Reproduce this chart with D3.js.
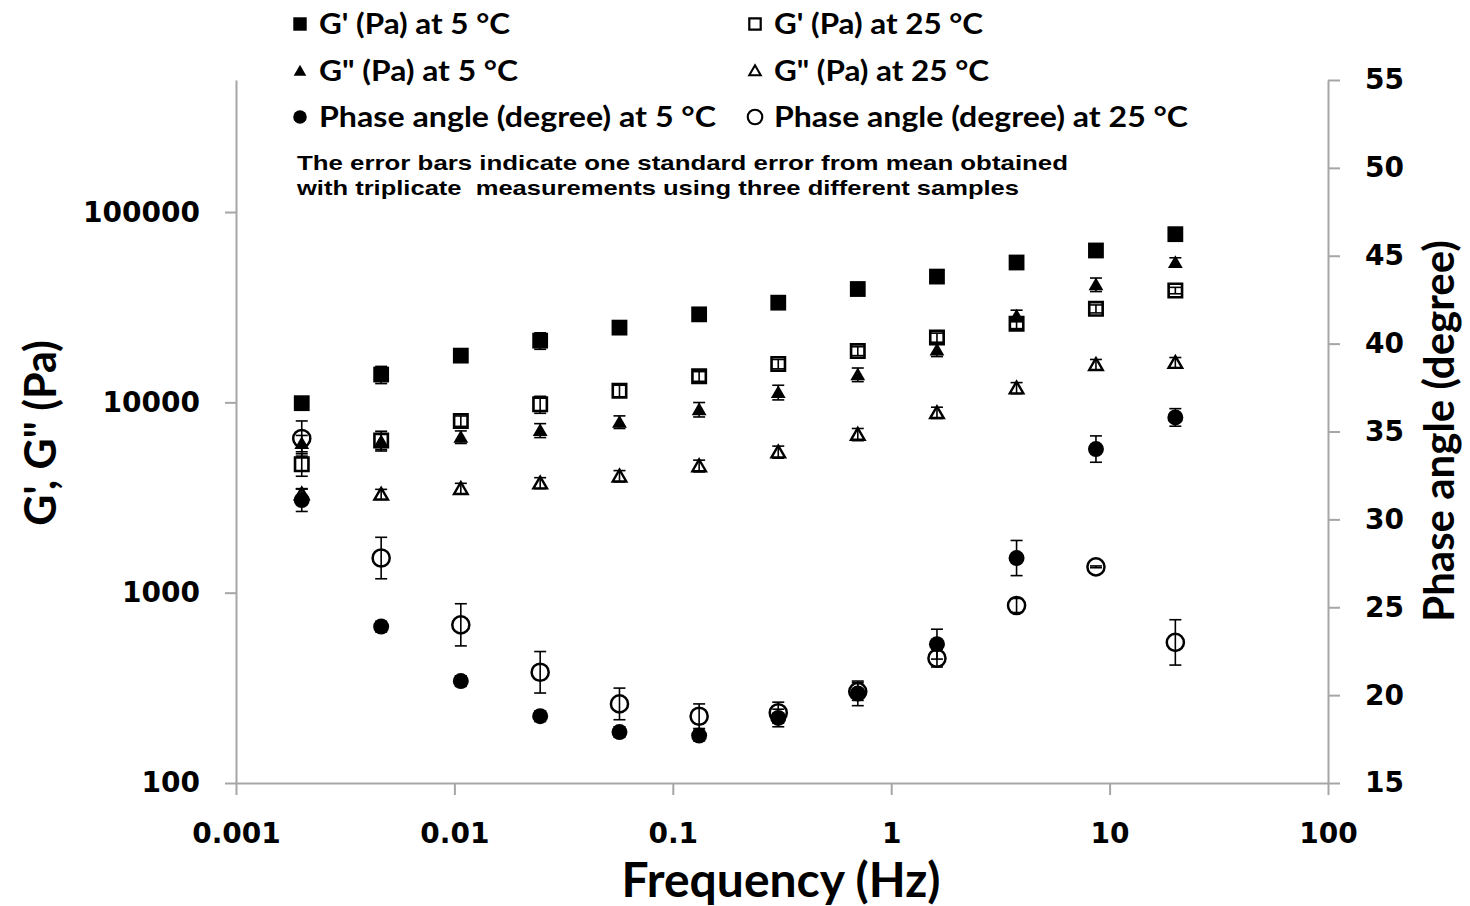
<!DOCTYPE html>
<html>
<head>
<meta charset="utf-8">
<script src="https://cdn.jsdelivr.net/npm/d3@7"></script>
<style>
  html, body { margin: 0; padding: 0; background: #fff; }
  svg { display: block; }
</style>
</head>
<body>
<svg id="chart" width="1470" height="906"></svg>
<script>
// Oscillatory frequency sweep: storage / loss modulus and phase angle at 5 °C and 25 °C
const frequencyHz = [0.002, 0.00462, 0.0107, 0.0247, 0.0570, 0.132, 0.304, 0.703, 1.62, 3.75, 8.66, 20.0];

const gPrime5   = [9900, 14000, 17600, 21100, 24700, 29000, 33400, 39400, 45800, 54300, 62800, 76500];
const gPrime5Se = [500, 1450, 1200, 2100, 1500, 1500, 1500, 1800, 2000, 2500, 3000, 2000];

const gPrime25   = [4730, 6300, 7980, 9760, 11500, 13700, 15900, 18600, 21900, 25900, 31000, 38700];
const gPrime25Se = [640, 750, 500, 1000, 800, 800, 900, 1000, 1200, 1500, 1500, 1500];

const gDouble5   = [6100, 6250, 6580, 7130, 7890, 9180, 11300, 14000, 18900, 28500, 41600, 54500];
const gDouble5Se = [600, 600, 500, 600, 600, 800, 1000, 1150, 1500, 2000, 3400, 3000];

const gDouble25   = [3300, 3290, 3525, 3770, 4100, 4640, 5490, 6790, 8830, 11900, 15800, 16200];
const gDouble25Se = [200, 200, 230, 250, 280, 330, 400, 500, 600, 800, 1000, 1000];

const phase5   = [31.1, 23.9, 20.8, 18.8, 17.9, 17.7, 18.7, 20.1, 22.9, 27.8, 34.0, 35.8];
const phase5Se = [0.65, 0.3, 0.3, 0.3, 0.3, 0.3, 0.5, 0.7, 0.85, 1.0, 0.75, 0.5];

const phase25   = [34.6, 27.8, 24.0, 21.3, 19.5, 18.8, 19.0, 20.2, 22.1, 25.1, 27.3, 23.0];
const phase25Se = [1.0, 1.18, 1.2, 1.18, 0.9, 0.7, 0.6, 0.5, 0.5, 0.4, 0.05, 1.29];

const xTicks = [0.001, 0.01, 0.1, 1, 10, 100];
const xTickLabels = ["0.001", "0.01", "0.1", "1", "10", "100"];
const modulusTicks = [100, 1000, 10000, 100000];
const modulusTickLabels = ["100", "1000", "10000", "100000"];
const phaseTicks = [15, 20, 25, 30, 35, 40, 45, 50, 55];

const legendLabels = [
  "G' (Pa) at 5 °C", "G' (Pa) at 25 °C",
  "G\" (Pa) at 5 °C", "G\" (Pa) at 25 °C",
  "Phase angle (degree) at 5 °C", "Phase angle (degree) at 25 °C"
];
const noteLines = [
  "The error bars indicate one standard error from mean obtained",
  "with triplicate\u00a0 measurements using three different samples"
];

// ---- layout ----
const plot = { left: 236, right: 1328, top: 80, bottom: 783 };
const modulusMax = 494000;   // upper bound of the logarithmic modulus axis
const axisGrey = "#a6a6a6";
const ink = "#000";

const svg = d3.select("#chart");

const x = d3.scaleLog().domain([0.001, 100]).range([plot.left, plot.right]);
const yMod = d3.scaleLog().domain([100, modulusMax]).range([plot.bottom, plot.top]);
const yPhase = d3.scaleLinear().domain([15, 55]).range([plot.bottom, plot.top]);

// ---- axes ----
function styleAxis(g) {
  g.select(".domain").attr("stroke", axisGrey).attr("stroke-width", 2);
  g.selectAll(".tick line").attr("stroke", axisGrey).attr("stroke-width", 2);
  g.selectAll(".tick text")
    .attr("fill", ink)
    .attr("font-family", "'DejaVu Sans', Verdana, sans-serif")
    .attr("font-weight", "bold")
    .attr("font-size", 28);
}

svg.append("g")
  .attr("transform", `translate(0,${plot.bottom})`)
  .call(d3.axisBottom(x).tickValues(xTicks)
    .tickFormat((d, i) => xTickLabels[i])
    .tickSize(12).tickSizeOuter(0).tickPadding(39))
  .call(styleAxis)
  .call(g => g.selectAll(".tick text").attr("dy", "0.32em"));

svg.append("g")
  .attr("transform", `translate(${plot.left},0)`)
  .call(d3.axisLeft(yMod).tickValues(modulusTicks)
    .tickFormat((d, i) => modulusTickLabels[i])
    .tickSize(11).tickSizeOuter(0).tickPadding(25))
  .call(styleAxis);

svg.append("g")
  .attr("transform", `translate(${plot.right},0)`)
  .call(d3.axisRight(yPhase).tickValues(phaseTicks)
    .tickFormat(d3.format("d"))
    .tickSize(12).tickSizeOuter(0).tickPadding(25))
  .call(styleAxis);

// ---- axis titles ----
svg.append("text")
  .attr("x", 781).attr("y", 897)
  .attr("text-anchor", "middle")
  .attr("font-family", "Lato, 'Open Sans', sans-serif")
  .attr("font-weight", "bold")
  .attr("font-size", 48)
  .attr("fill", ink)
  .text("Frequency (Hz)");

svg.append("text")
  .attr("transform", "translate(56,433) rotate(-90)")
  .attr("text-anchor", "middle")
  .attr("font-family", "Lato, 'Open Sans', sans-serif")
  .attr("font-weight", "bold")
  .attr("font-size", 43)
  .attr("fill", ink)
  .text("G', G\" (Pa)");

svg.append("text")
  .attr("transform", "translate(1454,431) rotate(-90)")
  .attr("text-anchor", "middle")
  .attr("font-family", "Lato, 'Open Sans', sans-serif")
  .attr("font-weight", "bold")
  .attr("font-size", 42)
  .attr("fill", ink)
  .text("Phase angle (degree)");

// ---- marker drawing ----
const markerDefs = {
  squareFilled:   { type: d3.symbolSquare,   size: 250, fill: ink,    stroke: "none", sw: 0 },
  squareOpen:     { type: d3.symbolSquare,   size: 180, fill: "none", stroke: ink,    sw: 2.6 },
  triangleFilled: { type: d3.symbolTriangle, size: 95,  fill: ink,    stroke: "none", sw: 0 },
  triangleOpen:   { type: d3.symbolTriangle, size: 80,  fill: "none", stroke: ink,    sw: 2.4 },
  circleFilled:   { type: d3.symbolCircle,   size: 200, fill: ink,    stroke: "none", sw: 0 },
  circleOpen:     { type: d3.symbolCircle,   size: 230, fill: "none", stroke: ink,    sw: 2.5 }
};

function markerPath(def, scale) {
  return d3.symbol().type(def.type).size(def.size * (scale || 1))();
}

const series = [
  { values: gPrime5,   se: gPrime5Se,   y: yMod,   marker: "squareFilled" },
  { values: gPrime25,  se: gPrime25Se,  y: yMod,   marker: "squareOpen" },
  { values: gDouble5,  se: gDouble5Se,  y: yMod,   marker: "triangleFilled" },
  { values: gDouble25, se: gDouble25Se, y: yMod,   marker: "triangleOpen" },
  { values: phase5,    se: phase5Se,    y: yPhase, marker: "circleFilled" },
  { values: phase25,   se: phase25Se,   y: yPhase, marker: "circleOpen" }
];

const capHalf = 6;
const plotLayer = svg.append("g");

series.forEach(s => {
  const rows = frequencyHz.map((f, i) => ({ f, v: s.values[i], e: s.se[i] }));
  const g = plotLayer.append("g");

  const def = markerDefs[s.marker];
  const triShift = def.type === d3.symbolTriangle ? 1.5 : 0;
  g.selectAll("path.mk").data(rows).join("path")
    .attr("class", "mk")
    .attr("d", markerPath(def))
    .attr("transform", d => `translate(${x(d.f)},${s.y(d.v) + triShift})`)
    .attr("fill", def.fill)
    .attr("stroke", def.stroke)
    .attr("stroke-width", def.sw);

  const eb = g.selectAll("g.err").data(rows).join("g").attr("class", "err")
    .attr("stroke", ink).attr("stroke-width", 1.6);
  eb.append("line")
    .attr("x1", d => x(d.f)).attr("x2", d => x(d.f))
    .attr("y1", d => s.y(d.v + d.e)).attr("y2", d => s.y(d.v - d.e));
  eb.append("line")
    .attr("x1", d => x(d.f) - capHalf).attr("x2", d => x(d.f) + capHalf)
    .attr("y1", d => s.y(d.v + d.e)).attr("y2", d => s.y(d.v + d.e));
  eb.append("line")
    .attr("x1", d => x(d.f) - capHalf).attr("x2", d => x(d.f) + capHalf)
    .attr("y1", d => s.y(d.v - d.e)).attr("y2", d => s.y(d.v - d.e));
});

// ---- legend (two columns, filled row by row) ----
const legendMarkers = ["squareFilled", "squareOpen", "triangleFilled", "triangleOpen", "circleFilled", "circleOpen"];
const legendCols = [300, 755];
const legendRows = [24, 71, 117];
const legendTextWidths = [191, 209, 199, 215, 397, 414];
const legend = svg.append("g");
legendLabels.forEach((label, i) => {
  const col = i % 2, row = Math.floor(i / 2);
  const cx = legendCols[col], cy = legendRows[row];
  const def = markerDefs[legendMarkers[i]];
  legend.append("path")
    .attr("d", markerPath(def, 0.72))
    .attr("transform", `translate(${cx},${cy + (def.type === d3.symbolTriangle ? 1 : 0)})`)
    .attr("fill", def.fill)
    .attr("stroke", def.stroke)
    .attr("stroke-width", def.sw ? def.sw * 0.85 : 0);
  legend.append("text")
    .attr("x", cx + 19).attr("y", cy)
    .attr("dy", "0.35em")
    .attr("font-family", "Lato, 'Open Sans', sans-serif")
    .attr("font-weight", "bold")
    .attr("font-size", 28)
    .attr("textLength", legendTextWidths[i])
    .attr("lengthAdjust", "spacingAndGlyphs")
    .attr("fill", ink)
    .text(label);
});

// ---- note ----
const noteWidths = [771, 722];
noteLines.forEach((line, i) => {
  svg.append("text")
    .attr("x", 297).attr("y", 170 + i * 25)
    .attr("font-family", "'Liberation Sans', Arial, sans-serif")
    .attr("font-weight", "bold")
    .attr("font-size", 21)
    .attr("textLength", noteWidths[i])
    .attr("lengthAdjust", "spacingAndGlyphs")
    .attr("fill", ink)
    .text(line);
});
</script>
</body>
</html>
